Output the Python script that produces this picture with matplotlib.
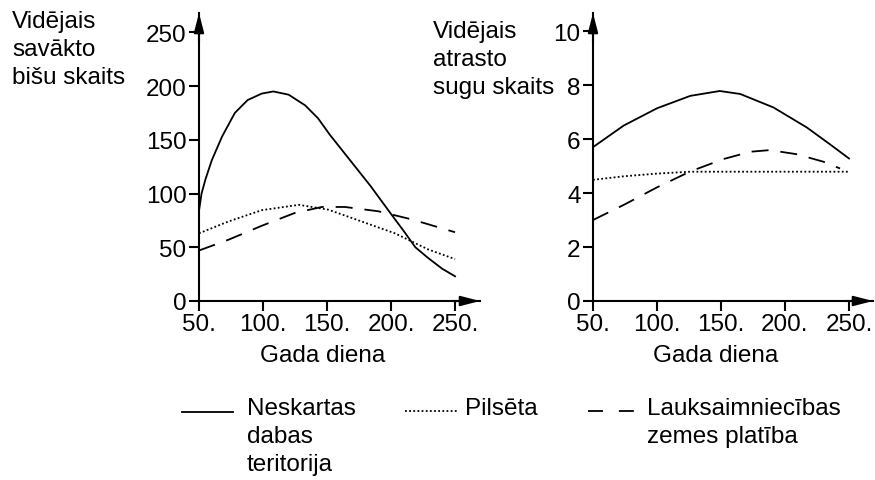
import matplotlib.pyplot as plt
from matplotlib.lines import Line2D

# Kreisais grafiks: vidējais savākto bišu skaits
bees_days_nat = [50, 52, 55, 60, 68, 78, 88, 99, 108, 120, 133, 143, 152, 164, 184, 200, 210, 219, 229, 240, 250]
bees_nat = [84, 100, 113, 131, 153, 175, 187, 193, 195, 192, 182, 170, 155, 137, 107, 81, 65, 50, 40, 30, 23]
bees_days_city = [50, 73, 99, 128, 151, 177, 203, 229, 250]
bees_city = [63, 74, 84.5, 89.5, 85, 74, 63, 48, 39]
bees_days_agri = [50, 73, 99, 125, 146, 164, 190, 216, 250]
bees_agri = [47, 57, 70, 82, 87.5, 87.5, 83.5, 76, 64]

# Labais grafiks: vidējais atrasto sugu skaits
sp_days_nat = [50, 74, 100, 126, 149, 165, 191, 217, 235, 250]
sp_nat = [5.7, 6.5, 7.14, 7.6, 7.78, 7.67, 7.17, 6.43, 5.81, 5.28]
sp_days_city = [50, 74, 100, 126, 150, 200, 250]
sp_city = [4.49, 4.62, 4.72, 4.79, 4.79, 4.79, 4.79]
sp_days_agri = [50, 74, 100, 126, 152, 173, 188, 209, 230, 243]
sp_agri = [3.0, 3.56, 4.21, 4.8, 5.26, 5.53, 5.59, 5.44, 5.16, 4.91]

x_ticks = [50, 100, 150, 200, 250]
bees_ticks = [0, 50, 100, 150, 200, 250]
sp_ticks = [0, 2, 4, 6, 8, 10]

legend_labels = ["Neskartas\ndabas\nteritorija", "Pilsēta", "Lauksaimniecības\nzemes platība"]

W, H = 875, 481
FS = 17.5
LW = 1.3
LS = 1.35
DOTTED = (0, (1, 1.3))
DASHED = (0, (9.4, 6.6))

plt.rcParams["font.family"] = ["Liberation Sans", "DejaVu Sans"]

fig = plt.figure(figsize=(W / 100, H / 100), dpi=100)


def make_axes(left_px, right_px, xmax, ymax, yticks):
    ax = fig.add_axes([left_px / W, (H - 302) / H, (right_px - left_px) / W, (302 - 14) / H])
    ax.set_xlim(50, xmax)
    ax.set_ylim(0, ymax)
    for s in ["top", "right"]:
        ax.spines[s].set_visible(False)
    for s in ["left", "bottom"]:
        ax.spines[s].set_linewidth(1.5)
    ax.set_xticks(x_ticks, labels=[f"{t}." for t in x_ticks])
    ax.set_yticks(yticks)
    ax.tick_params(direction="out", length=7, width=1.5, labelsize=FS, pad=2)
    ax.set_facecolor("none")
    head = dict(arrowstyle="-|>,head_length=0.58,head_width=0.15", mutation_scale=20,
                color="black", lw=1.5, shrinkA=0, shrinkB=0)
    ax.annotate("", xy=(1, 0), xytext=(0.9, 0), xycoords="axes fraction", arrowprops=head)
    ax.annotate("", xy=(0, 1), xytext=(0, 0.9), xycoords="axes fraction", arrowprops=head)
    return ax


ax1 = make_axes(199, 480, 269.5, 268, bees_ticks)
ax1.plot(bees_days_nat, bees_nat, color="black", lw=LW)
ax1.plot(bees_days_city, bees_city, color="black", lw=LW, linestyle=DOTTED)
ax1.plot(bees_days_agri, bees_agri, color="black", lw=LW, linestyle=DASHED)

ax2 = make_axes(593, 873, 268.75, 10.67, sp_ticks)
ax2.plot(sp_days_nat, sp_nat, color="black", lw=LW)
ax2.plot(sp_days_city, sp_city, color="black", lw=LW, linestyle=DOTTED)
ax2.plot(sp_days_agri, sp_agri, color="black", lw=LW, linestyle=DASHED)

# ass nosaukumi
fig.text(12 / W, 1 - 11 / H, "Vidējais\nsavākto\nbišu skaits", fontsize=FS, va="top", ha="left",
         linespacing=LS)
fig.text(433 / W, 1 - 21 / H, "Vidējais\natrasto\nsugu skaits", fontsize=FS, va="top", ha="left",
         linespacing=LS)
fig.text(323 / W, 1 - 356 / H, "Gada diena", fontsize=FS, va="center", ha="center")
fig.text(716 / W, 1 - 356 / H, "Gada diena", fontsize=FS, va="center", ha="center")

# leģenda
styles = ["-", DOTTED, (0, (8.3, 8.8))]
line_px = [(182, 233, 413), (405, 458, 412), (588, 634, 412)]
text_px = [247, 465, 647]
for st, (x0, x1, y), tx, lab in zip(styles, line_px, text_px, legend_labels):
    fig.add_artist(Line2D([x0 / W, x1 / W], [1 - y / H, 1 - y / H], color="black",
                          lw=LW, linestyle=st, transform=fig.transFigure))
    fig.text(tx / W, 1 - 398 / H, lab, fontsize=FS, va="top", ha="left", linespacing=LS)

fig.savefig("out.png", dpi=100)
